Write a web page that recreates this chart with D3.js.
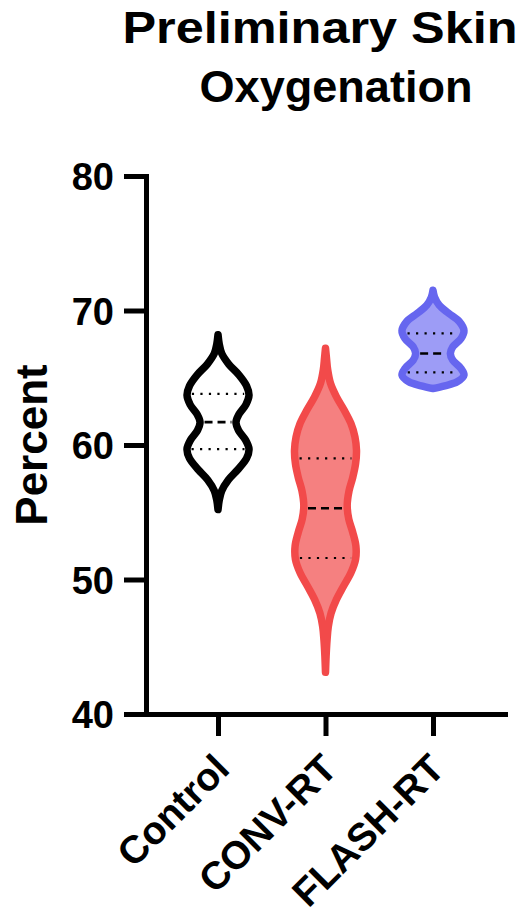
<!DOCTYPE html>
<html>
<head>
<meta charset="utf-8">
<script src="https://cdn.jsdelivr.net/npm/d3@7"></script>
<style>
  html, body { margin: 0; padding: 0; background: #fff; }
  svg { display: block; }
  text { font-family: "Liberation Sans", Arial, Helvetica, sans-serif; font-weight: bold; fill: #000; }
</style>
</head>
<body>
<div id="chart"></div>
<script>
// violin plot: preliminary skin oxygenation
const groups = ["Control", "CONV-RT", "FLASH-RT"];
const yTicks = [40, 50, 60, 70, 80];

// density profiles: [percent, relative half-width]
const controlProfile = [
  [68.2, 0], [67.5, 0.04], [66.8, 0.12], [66.0, 0.35], [65.2, 0.68], [64.4, 0.92],
  [63.7, 1.0], [63.0, 0.9], [62.3, 0.68], [61.7, 0.58], [61.1, 0.66], [60.4, 0.88],
  [59.7, 1.0], [59.0, 0.92], [58.2, 0.65], [57.4, 0.33], [56.6, 0.12], [55.9, 0.04], [55.2, 0]
];
const convProfile = [
  [67.2, 0], [66.5, 0.03], [65.6, 0.07], [64.6, 0.16], [63.6, 0.35], [62.6, 0.6],
  [61.6, 0.82], [60.6, 0.95], [59.6, 1.0], [58.6, 0.97], [57.6, 0.88], [56.6, 0.76],
  [55.5, 0.7], [54.5, 0.75], [53.5, 0.88], [52.5, 0.98], [51.5, 0.97], [50.5, 0.82],
  [49.5, 0.58], [48.5, 0.35], [47.5, 0.18], [46.5, 0.09], [45.5, 0.05], [44.3, 0.02], [43.1, 0]
];
const flashProfile = [
  [71.5, 0], [71.0, 0.05], [70.4, 0.2], [69.8, 0.5], [69.2, 0.84], [68.5, 1.0],
  [67.9, 0.9], [67.3, 0.64], [66.8, 0.56], [66.3, 0.64], [65.7, 0.9], [65.2, 1.0],
  [64.7, 0.78], [64.4, 0.38], [64.2, 0]
];
const profiles = [controlProfile, convProfile, flashProfile];

// [lower quartile, median, upper quartile]
const quartiles = [[59.7, 61.7, 63.8], [51.6, 55.3, 59.0], [65.4, 66.8, 68.3]];

const W = 532, H = 915;
const X0 = 146, X1 = 505, YT = 176, YB = 714;
const STYLE = [
  { stroke: "#000000", fill: "#ffffff" },
  { stroke: "#f24a4a", fill: "#f58080" },
  { stroke: "#6666ef", fill: "#9d9cf6" },
];

const svg = d3.select("#chart").append("svg")
  .attr("width", W).attr("height", H).attr("viewBox", `0 0 ${W} ${H}`);

const y = d3.scaleLinear().domain([40, 80]).range([YB, YT]);
const x = d3.scalePoint().domain(groups).range([X0, X1]).padding(0.67);
const w = d3.scaleLinear().domain([0, 1]).range([0, 31]);

// ── title ──
svg.append("text").attr("x", 320).attr("y", 43).attr("text-anchor", "middle")
  .attr("font-size", 44).attr("textLength", 395).attr("lengthAdjust", "spacingAndGlyphs")
  .text("Preliminary Skin");
svg.append("text").attr("x", 336).attr("y", 102).attr("text-anchor", "middle")
  .attr("font-size", 44).attr("textLength", 273).attr("lengthAdjust", "spacingAndGlyphs")
  .text("Oxygenation");

// ── y label ──
svg.append("text")
  .attr("transform", "translate(47,445) rotate(-90)")
  .attr("text-anchor", "middle").attr("font-size", 44).text("Percent");

// ── violins ──
const area = d3.area()
  .y(d => y(d[0]))
  .curve(d3.curveCatmullRom.alpha(0.5));

const halfAt = (prof, v) => {
  for (let i = 0; i < prof.length - 1; i++) {
    const a = prof[i], b = prof[i + 1];
    if (v <= a[0] && v >= b[0]) return a[1] + (b[1] - a[1]) * (a[0] - v) / (a[0] - b[0]);
  }
  return 0;
};

groups.forEach((g, i) => {
  const cx = x(g), prof = profiles[i], st = STYLE[i];
  const vg = svg.append("g");
  vg.append("path")
    .attr("d", area.x0(d => cx - w(d[1])).x1(d => cx + w(d[1]))(prof))
    .attr("fill", st.fill).attr("stroke", st.stroke)
    .attr("stroke-width", 7.5).attr("stroke-linejoin", "round").attr("stroke-linecap", "round");
  quartiles[i].forEach((q, k) => {
    const hw = Math.max(0, w(halfAt(prof, q)) - 4.5);
    vg.append("line")
      .attr("x1", cx - hw).attr("x2", cx + hw)
      .attr("y1", y(q)).attr("y2", y(q))
      .attr("stroke", "#000")
      .attr("stroke-width", k === 1 ? 2.6 : 2.2)
      .attr("stroke-dasharray", k === 1 ? "8 5" : "2.2 6.3");
  });
});

// ── axes ──
const ya = svg.append("g").attr("transform", `translate(${X0},0)`)
  .call(d3.axisLeft(y).tickValues(yTicks).tickSize(22).tickSizeOuter(0).tickPadding(10));
ya.selectAll("text").attr("font-size", 38).attr("dy", "0.36em");

const xa = svg.append("g").attr("transform", `translate(0,${YB})`)
  .call(d3.axisBottom(x).tickSize(22).tickSizeOuter(0));
xa.selectAll(".tick text")
  .attr("x", 0).attr("y", 0).attr("dy", 0)
  .attr("text-anchor", "end")
  .attr("transform", "translate(13,57) rotate(-45)")
  .attr("font-size", 39);

svg.selectAll(".domain, .tick line")
  .attr("stroke", "#000").attr("stroke-width", 5).attr("stroke-linecap", "square");
svg.selectAll(".tick line").attr("stroke-linecap", "butt");
svg.selectAll("g.tick text").attr("font-family", "Liberation Sans, Arial, sans-serif")
  .attr("font-weight", "bold").attr("fill", "#000");
</script>
</body>
</html>
